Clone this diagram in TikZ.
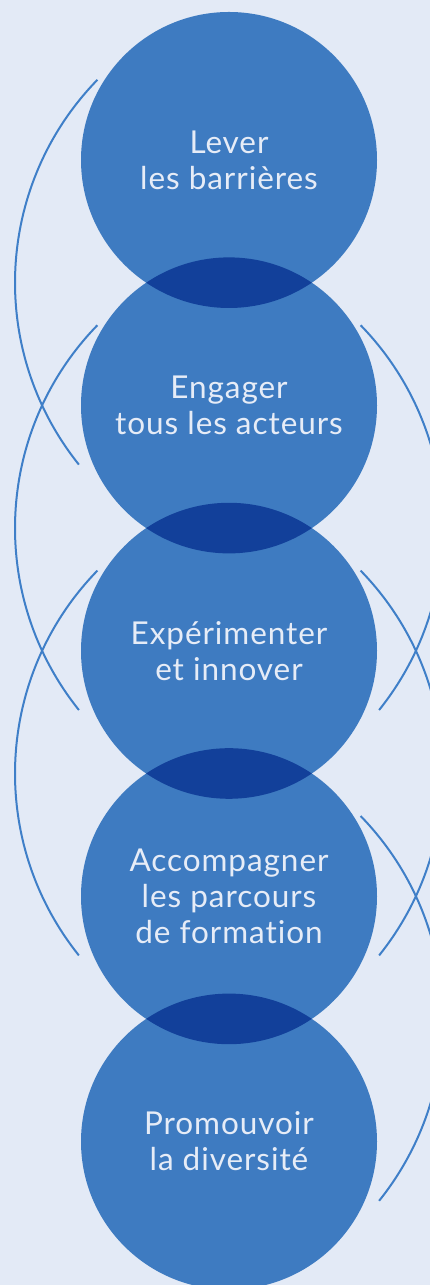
\documentclass[tikz,border=0pt]{standalone}
\usepackage{fontspec}
\setmainfont{Lato}[Ligatures=NoCommon,LetterSpace=3]
\usetikzlibrary{positioning,calc}
\definecolor{bgblue}{HTML}{E3EAF6}
\definecolor{discblue}{HTML}{3E7BC1}
\definecolor{lensblue}{HTML}{12409A}
\definecolor{lineblue}{HTML}{3F7FC8}
\definecolor{textblue}{HTML}{E6ECF7}
\begin{document}
\begin{tikzpicture}[x=1pt,y=1pt,
    disc/.style={circle,fill=discblue,minimum size=296pt,inner sep=0pt,
      text=textblue,align=center,font=\fontsize{31.5}{36}\selectfont},
    loop/.style={lineblue,line width=2pt}]
  \fill[bgblue] (0,0) rectangle (430,1285);
  \useasboundingbox (0,0) rectangle (430,1285);
  \clip (0,0) rectangle (430,1285);
  % discs, one under the other
  \node[disc] (c1) at (229,1125) {Lever\\les barrières};
  \node[disc,below=-51pt of c1] (c2) {Engager\\tous les acteurs};
  \node[disc,below=-51pt of c2] (c3) {Expérimenter\\et innover};
  \node[disc,below=-51pt of c3] (c4) {Accompagner\\les parcours\\de formation};
  \node[disc,below=-51pt of c4] (c5) {Promouvoir\\la diversité};
  % overlaps
  \foreach \a/\b in {c1/c2,c2/c3,c3/c4,c4/c5}{
    \begin{scope}
      \clip (\a) circle (148pt);
      \fill[lensblue] (\b) circle (148pt);
    \end{scope}
  }
  % side loops
  \foreach \a/\b in {c1/c2,c2/c3,c3/c4}
    \draw[loop] ($(\a)!0.5!(\b)+(77,0)$) ++(135.8:291pt)
      arc[start angle=135.8,end angle=218.7,radius=291pt];
  \foreach \a/\b in {c2/c3,c3/c4,c4/c5}
    \draw[loop] ($(\a)!0.5!(\b)+(-77,0)$) ++(44.2:291pt)
      arc[start angle=44.2,end angle=-38.7,radius=291pt];
\end{tikzpicture}
\end{document}
